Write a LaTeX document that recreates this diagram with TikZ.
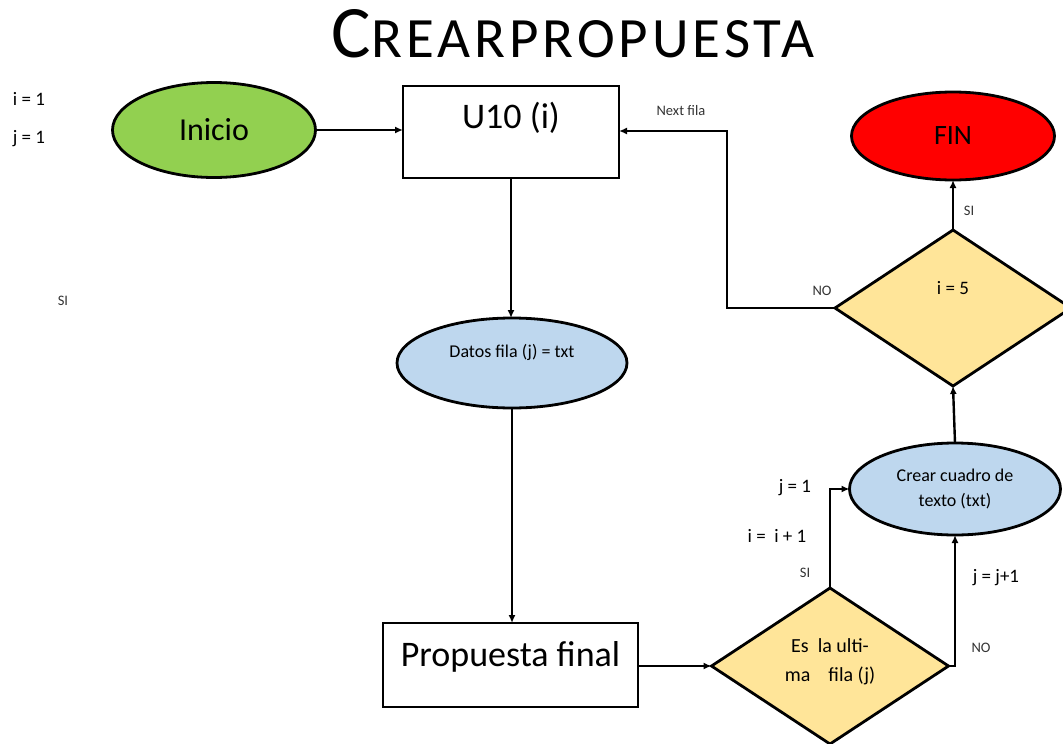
\documentclass[tikz,border=0pt]{standalone}
\usepackage{fontspec}
\setmainfont{Carlito}
\usetikzlibrary{shapes.geometric, arrows.meta}

\definecolor{verde}{RGB}{146,208,80}
\definecolor{rojo}{RGB}{255,0,0}
\definecolor{azul}{RGB}{190,215,238}
\definecolor{amarillo}{RGB}{255,229,153}

\tikzset{
  flecha/.style={-{Latex[length=8pt, width=7pt]}, line width=2.4pt},
  etiq/.style={text=black!80, font=\fontsize{14.5}{17}\selectfont},
  var/.style={font=\fontsize{19}{22}\selectfont},
}

\begin{document}
\begin{tikzpicture}[x=1pt, y=-1pt, line width=2.8pt, inner sep=0, outer sep=0]
  \clip (0,0) rectangle (1063,744);

  \node (titulo) at (573,34) {\addfontfeatures{LetterSpace=7}\fontsize{74}{74}\selectfont C\fontsize{57}{57}\selectfont REARPROPUESTA};

  \node[ellipse, draw, fill=verde,
    minimum width = 203,
    minimum height = 95] (inicio) at (214,130) {\fontsize{32}{32}\selectfont Inicio};

  \node[rectangle, draw, fill=white,
    minimum width = 216,
    minimum height = 92] (u10) at (511,132) {};
  \node (u10txt) at ([yshift=14pt]u10.center) {\fontsize{36}{36}\selectfont U10 (i)};

  \node[ellipse, draw, fill=azul,
    minimum width = 230,
    minimum height = 90] (datos) at (512,363) {};
  \node (datostxt) at ([yshift=11pt]datos.center) {\fontsize{18}{18}\selectfont Datos fila (j) = txt};

  \node[rectangle, draw, fill=white,
    minimum width = 255,
    minimum height = 84] (propuesta) at (510.5,665) {};
  \node (propuestatxt) at ([yshift=8pt]propuesta.center) {\fontsize{36}{36}\selectfont Propuesta final};

  \node[diamond, draw, fill=amarillo,
    minimum width = 237,
    minimum height = 156] (ultima) at (830,666) {};
  \node[align=center, font=\fontsize{20}{29}\selectfont] (ultimatxt) at ([yshift=4pt]ultima.center) {Es\ \ la ulti-\\ma\ \ \ \ fila (j)};

  \node[ellipse, draw, fill=azul,
    minimum width = 211,
    minimum height = 92] (crear) at (955,489) {};
  \node[align=center, font=\fontsize{18}{25}\selectfont] (creartxt) at (crear.center) {Crear cuadro de\\texto (txt)};

  \node[diamond, draw, fill=amarillo,
    minimum width = 236,
    minimum height = 156] (igual5) at (953,308) {};
  \node (igual5txt) at ([yshift=20pt]igual5.center) {\fontsize{19}{19}\selectfont i = 5};

  \node[ellipse, draw, fill=rojo,
    minimum width = 203,
    minimum height = 88] (fin) at (953,136) {\fontsize{28}{28}\selectfont FIN};

  % variables sueltas
  \node[var] (vari) at (29,99) {i = 1};
  \node[var] (varj) at (29,139) {j = 1};
  \node[etiq] (silibre) at (63,301) {SI};

  % conectores
  \draw[flecha] (inicio.east) -- (inicio.east -| u10.west);
  \draw[flecha] (u10.south) -- (u10.south |- datos.north);
  \draw[flecha] (datos.south) -- (datos.south |- propuesta.north);
  \draw[flecha] (propuesta.east |- ultima.west) -- (ultima.west);
  \draw[flecha] (ultima.north) |- (crear.west);
  \draw[flecha] (ultima.east) -| (crear.south);
  \draw[flecha] (crear.north) -- (igual5.south);
  \draw[flecha] (igual5.north) -- (fin.south);
  \coordinate (codo) at (727,308);
  \draw[flecha] (igual5.west) -- (codo) |- ([yshift=1pt]u10.east);

  % etiquetas de los conectores
  \node[etiq] (nextfila) at (681,111) {Next fila};
  \node[etiq] (nosup) at (822,291) {NO};
  \node[etiq] (sisup) at (969,211) {SI};
  \node[etiq] (siinf) at (805,573) {SI};
  \node[etiq] (noinf) at (981,648) {NO};
  \node[var] (resetj) at (795,488) {j = 1};
  \node[var] (masi) at (777,536) {i =\ \ i + 1};
  \node[var] (masj) at (996,578) {j = j+1};
\end{tikzpicture}
\end{document}
